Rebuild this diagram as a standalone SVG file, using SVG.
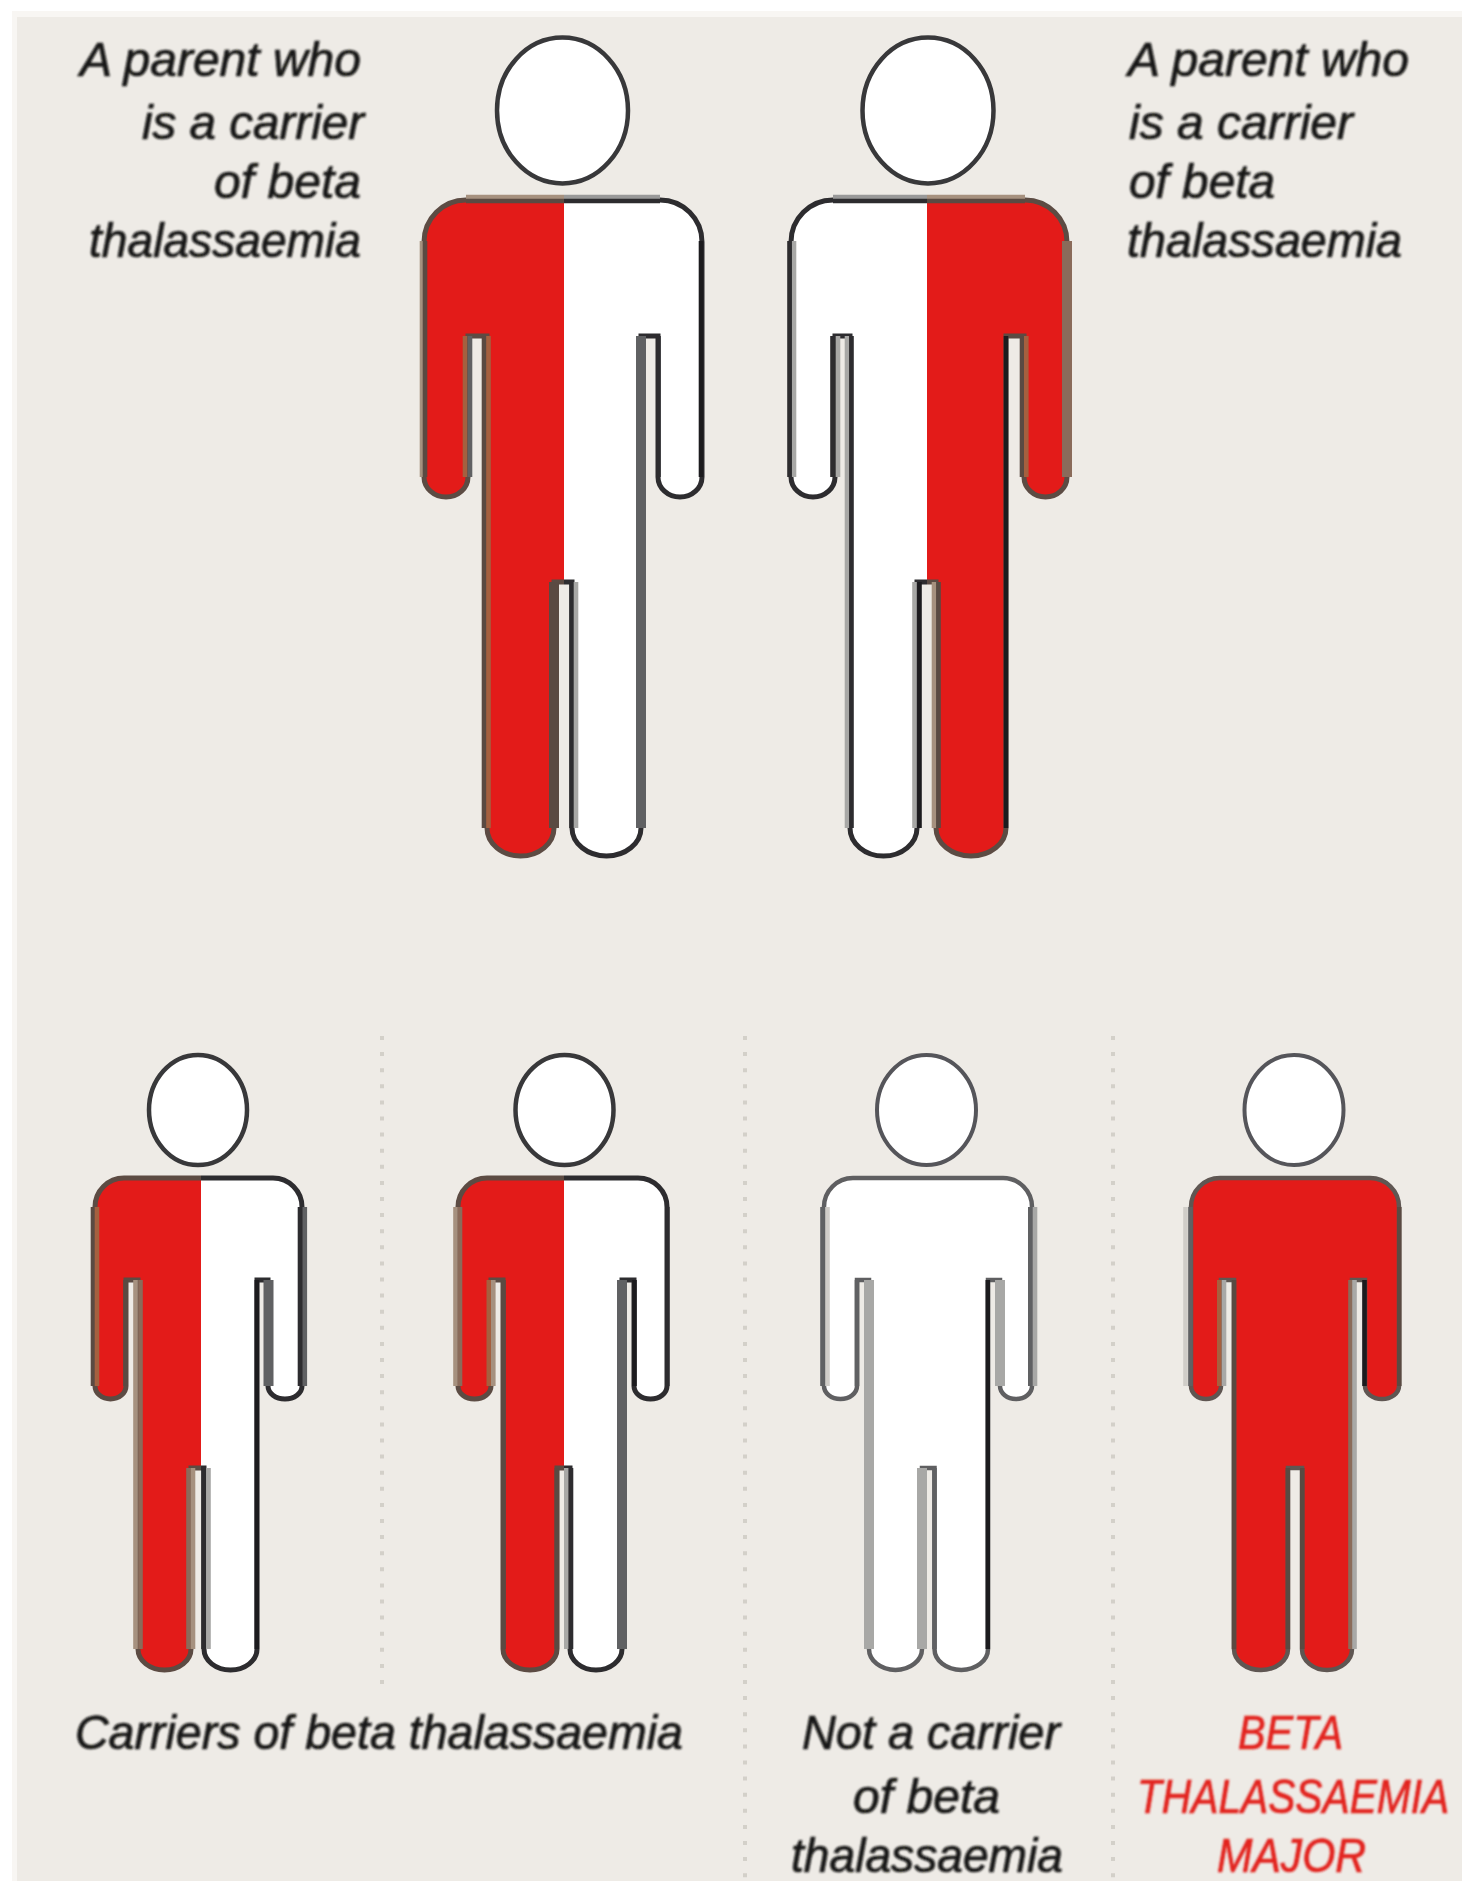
<svg xmlns="http://www.w3.org/2000/svg" width="1462" height="1881" viewBox="0 0 1462 1881">
<style>
text{font-family:"Liberation Sans",Arial,sans-serif;font-style:italic;font-size:48px;fill:#141413;stroke:#141413;stroke-width:.7}
.txt{filter:url(#soft)}
text.red{fill:#e2211c;stroke:#e2211c}
.head{fill:#fff;stroke:#38383a;stroke-width:4.5}
.h2{stroke:#55555a;stroke-width:4}
.w{fill:#fff}.r{fill:#e31b19}
.sn{fill:none;stroke:#5c4b43;stroke-width:5}
.sd{fill:none;stroke:#2d2c2f;stroke-width:5}
.sg{fill:none;stroke:#5f5f61;stroke-width:4.5}
.sm{stroke:#5f5652}
.e{fill:none;stroke-width:4.6}
.w9{stroke-width:10}
.d{stroke:#2d2c2f}.k{stroke:#1c1b1e}.g{stroke:#606163}.l{stroke:#a8a8a6}.b{stroke:#a5603f}.t{stroke:#a6917f}.n{stroke:#5a4a42}.u{stroke:#8a6b5a}.p{stroke:#d0cdc8}.m{stroke:#999}
.div{stroke:#d3d0c9;stroke-width:4;stroke-dasharray:4 12.1;fill:none}
</style>
<defs>
<filter id="soft" x="-5%" y="-5%" width="110%" height="110%"><feGaussianBlur stdDeviation="0.8"/></filter>
<path id="b1" d="M466 200H660A42 42 0 0 1 702 242V477A22 20 0 0 1 658 477V336H641V828A34.5 28 0 0 1 572 828V582H554V828A33.5 28 0 0 1 487 828V336H468V477A22 20 0 0 1 424 477V242A42 42 0 0 1 466 200Z"/>
<path id="b2" d="M833 200H1025A42 42 0 0 1 1067 242V477A21.5 20 0 0 1 1024 477V336H1006V828A35 28 0 0 1 936 828V582H917V828A33.5 28 0 0 1 850 828V336H835V477A22 20 0 0 1 791 477V242A42 42 0 0 1 833 200Z"/>
<path id="b3" d="M124 1178H273A29 29 0 0 1 302 1207V1386A17 13 0 0 1 268 1386V1280H257V1649A26.5 21 0 0 1 204 1649V1468H191V1649A26.5 21 0 0 1 138 1649V1280H126V1386A15.5 13 0 0 1 95 1386V1207A29 29 0 0 1 124 1178Z"/>
<path id="b4" d="M487 1178H638A29 29 0 0 1 667 1207V1386A16.5 13 0 0 1 634 1386V1280H622V1649A26 21 0 0 1 570 1649V1468H557V1649A27 21 0 0 1 503 1649V1280H491V1386A16.5 13 0 0 1 458 1386V1207A29 29 0 0 1 487 1178Z"/>
<path id="b5" d="M853 1178H1003A29 29 0 0 1 1032 1207V1386A16 13 0 0 1 1000 1386V1280H988V1649A26.75 21 0 0 1 934.5 1649V1468H922V1649A26.5 21 0 0 1 869 1649V1280H857V1386A16.5 13 0 0 1 824 1386V1207A29 29 0 0 1 853 1178Z"/>
<path id="b6" d="M1220 1178H1370A29 29 0 0 1 1399 1207V1386A17 13 0 0 1 1365 1386V1280H1352V1649A25 21 0 0 1 1302 1649V1468H1288V1649A27 21 0 0 1 1234 1649V1280H1221V1386A15 13 0 0 1 1191 1386V1207A29 29 0 0 1 1220 1178Z"/>
<clipPath id="c1l"><rect x="400" y="180" width="164" height="700"/></clipPath>
<clipPath id="c1r"><rect x="564" y="180" width="164" height="700"/></clipPath>
<clipPath id="c2l"><rect x="770" y="180" width="157" height="700"/></clipPath>
<clipPath id="c2r"><rect x="927" y="180" width="160" height="700"/></clipPath>
<clipPath id="c3l"><rect x="80" y="1170" width="121" height="510"/></clipPath>
<clipPath id="c3r"><rect x="201" y="1170" width="121" height="510"/></clipPath>
<clipPath id="c4l"><rect x="445" y="1170" width="119" height="510"/></clipPath>
<clipPath id="c4r"><rect x="564" y="1170" width="119" height="510"/></clipPath>
</defs>

<rect id="halo" x="12" y="11" width="1450" height="1870" fill="#f8f6f3"/>
<rect id="panel" x="17" y="17" width="1445" height="1864" fill="#eeebe6"/>

<g id="dividers">
<path class="div" d="M382 1036V1692"/>
<path class="div" d="M745 1036V1881"/>
<path class="div" d="M1113 1036V1881"/>
</g>

<g id="figure-parent-left">
<ellipse class="head" cx="562.5" cy="110.500" rx="65.500" ry="73"/>
<use href="#b1" class="w"/>
<use href="#b1" class="r" clip-path="url(#c1l)"/>
<use href="#b1" class="sn" clip-path="url(#c1l)"/>
<use href="#b1" class="sd" clip-path="url(#c1r)"/>
<path class="e t" d="M466 197H564"/><path class="e n" d="M466 201H564"/>
<path class="e m" d="M564 197H660"/><path class="e d" d="M564 201H660"/>
<path class="e t" d="M422 241V477"/><path class="e n" d="M425 241V477"/>
<path class="e b" d="M465 336V477"/><path class="e g" d="M470 336V477"/>
<path class="e n" d="M484 336V828"/><path class="e b" d="M488.500 336V828"/>
<path class="e w9 n" d="M554 582V828"/>
<path class="e d" d="M571.500 582V828"/><path class="e l" d="M576 582V828"/>
<path class="e w9 g" d="M641 336V828"/>
<path class="e d" d="M658.500 336V477"/>
<path class="e k" d="M701 241V477"/>
</g>

<g id="figure-parent-right">
<ellipse class="head" cx="928" cy="110.500" rx="65.500" ry="73"/>
<use href="#b2" class="w"/>
<use href="#b2" class="r" clip-path="url(#c2r)"/>
<use href="#b2" class="sd" clip-path="url(#c2l)"/>
<use href="#b2" class="sn" clip-path="url(#c2r)"/>
<path class="e m" d="M833 197H927"/><path class="e d" d="M833 201H927"/>
<path class="e t" d="M927 197H1025"/><path class="e n" d="M927 201H1025"/>
<path class="e l" d="M794 241V477"/><path class="e d" d="M789.500 241V477"/>
<path class="e d" d="M832.500 336V477"/><path class="e l" d="M838 336V477"/>
<path class="e l" d="M847 336V828"/><path class="e d" d="M851.500 336V828"/>
<path class="e l" d="M914.500 582V828"/><path class="e k" d="M919.500 582V828"/>
<path class="e t" d="M934 582V828"/><path class="e n" d="M938.500 582V828"/>
<path class="e k" d="M1006 336V828"/>
<path class="e n" d="M1022 336V477"/><path class="e b" d="M1026.300 336V477"/>
<path class="e w9 u" d="M1067 241V477"/>
</g>

<g id="figure-carrier-1">
<ellipse class="head" cx="198" cy="1110" rx="49" ry="55"/>
<use href="#b3" class="w"/>
<use href="#b3" class="r" clip-path="url(#c3l)"/>
<use href="#b3" class="sn" clip-path="url(#c3l)"/>
<use href="#b3" class="sd" clip-path="url(#c3r)"/>
<path class="e n" d="M93 1207V1386"/><path class="e b" d="M97 1207V1386"/>
<path class="e n" d="M125.500 1280V1386"/>
<path class="e t" d="M135.500 1280V1649"/><path class="e u" d="M140.500 1280V1649"/>
<path class="e u" d="M188.500 1468V1649"/><path class="e t" d="M193 1468V1649"/>
<path class="e d" d="M203.500 1468V1649"/><path class="e l" d="M208.500 1468V1649"/>
<path class="e k" d="M256.800 1280V1649"/>
<path class="e w9 g" d="M268.500 1280V1386"/>
<path class="e d" d="M300 1207V1386"/><path class="e g" d="M304.800 1207V1386"/>
</g>

<g id="figure-carrier-2">
<ellipse class="head" cx="564.500" cy="1110" rx="49" ry="55"/>
<use href="#b4" class="w"/>
<use href="#b4" class="r" clip-path="url(#c4l)"/>
<use href="#b4" class="sn" clip-path="url(#c4l)"/>
<use href="#b4" class="sd" clip-path="url(#c4r)"/>
<path class="e t" d="M455.500 1207V1386"/><path class="e u" d="M460 1207V1386"/>
<path class="e b" d="M488.800 1280V1386"/><path class="e t" d="M493.300 1280V1386"/>
<path class="e n" d="M503.500 1280V1649"/>
<path class="e n" d="M556.800 1468V1649"/>
<path class="e l" d="M566.300 1468V1649"/><path class="e d" d="M571 1468V1649"/>
<path class="e w9 g" d="M622 1280V1649"/>
<path class="e k" d="M634.500 1280V1386"/>
<path class="e d" d="M667.300 1207V1386"/>
</g>

<g id="figure-not-carrier">
<ellipse class="head h2" cx="926.500" cy="1110" rx="49.500" ry="55"/>
<use href="#b5" class="w"/>
<use href="#b5" class="sg"/>
<path class="e g" d="M822.500 1207V1386"/><path class="e p" d="M827.500 1207V1386"/>
<path class="e g" d="M857 1280V1386"/>
<path class="e w9 l" d="M869 1280V1649"/>
<path class="e w9 l" d="M922 1468V1649"/>
<path class="e g" d="M934.500 1468V1649"/>
<path class="e k" d="M987.800 1280V1649"/>
<path class="e w9 l" d="M1000 1280V1386"/>
<path class="e g" d="M1030.300 1207V1386"/><path class="e l" d="M1035 1207V1386"/>
</g>

<g id="figure-major">
<ellipse class="head h2" cx="1294" cy="1110" rx="49.500" ry="55"/>
<use href="#b6" class="r"/>
<use href="#b6" class="sg sm"/>
<path class="e p" d="M1185.500 1207V1386"/><path class="e g" d="M1190.500 1207V1386"/>
<path class="e b" d="M1219.300 1280V1386"/><path class="e l" d="M1224 1280V1386"/>
<path class="e n" d="M1234 1280V1649"/>
<path class="e n" d="M1287.800 1468V1649"/>
<path class="e n" d="M1302.300 1468V1649"/>
<path class="e u" d="M1350.500 1280V1649"/><path class="e l" d="M1354.500 1280V1649"/>
<path class="e k" d="M1364.500 1280V1386"/>
<path class="e n" d="M1399.300 1207V1386"/>
</g>

<g id="labels" class="txt">
<text x="80" y="76" textLength="281" lengthAdjust="spacingAndGlyphs">A parent who</text>
<text x="142" y="139" textLength="222" lengthAdjust="spacingAndGlyphs">is a carrier</text>
<text x="214" y="198" textLength="147" lengthAdjust="spacingAndGlyphs">of beta</text>
<text x="89" y="257" textLength="272" lengthAdjust="spacingAndGlyphs">thalassaemia</text>
<text x="1128" y="76" textLength="281" lengthAdjust="spacingAndGlyphs">A parent who</text>
<text x="1129" y="139" textLength="224" lengthAdjust="spacingAndGlyphs">is a carrier</text>
<text x="1129" y="198" textLength="146" lengthAdjust="spacingAndGlyphs">of beta</text>
<text x="1127" y="257" textLength="275" lengthAdjust="spacingAndGlyphs">thalassaemia</text>
<text x="75" y="1749" textLength="608" lengthAdjust="spacingAndGlyphs">Carriers of beta thalassaemia</text>
<text x="802" y="1749" textLength="258" lengthAdjust="spacingAndGlyphs">Not a carrier</text>
<text x="853" y="1813" textLength="147" lengthAdjust="spacingAndGlyphs">of beta</text>
<text x="791" y="1872" textLength="272" lengthAdjust="spacingAndGlyphs">thalassaemia</text>
<text class="red" x="1238" y="1749" textLength="105" lengthAdjust="spacingAndGlyphs">BETA</text>
<text class="red" transform="translate(1137 1813) scale(.848 1)">THALASSAEMIA</text>
<text class="red" x="1217" y="1872" textLength="149" lengthAdjust="spacingAndGlyphs">MAJOR</text>
</g>
</svg>
